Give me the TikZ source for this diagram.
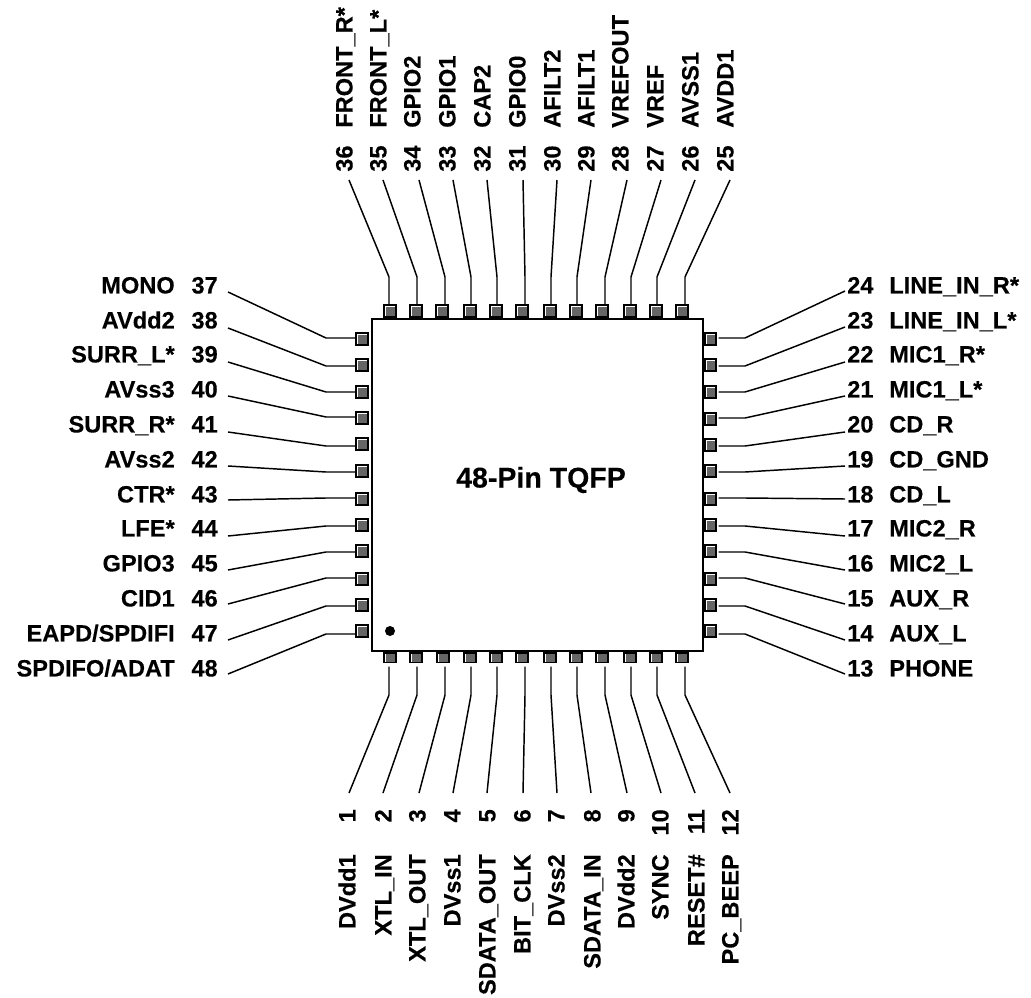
\documentclass[tikz,border=0pt]{standalone}
\usepackage{fontspec}
\setmainfont[BoldFeatures={FakeBold=0.3}]{Liberation Sans}
\usepackage{tikz}

\definecolor{pingray}{HTML}{666666}

\tikzset{
  pinbox/.style={draw=black,line width=1.4pt,fill=pingray,inner sep=0pt,minimum size=8.5pt,
    path picture={\draw[white,line width=2.8pt]
      (path picture bounding box.south west) -- (path picture bounding box.north west)
      -- (path picture bounding box.north east);}},
  lead/.style={draw=black,line width=1.1pt},
  pinlabel/.style={font=\fontsize{17.7}{20}\selectfont\bfseries,inner sep=0pt,text height=12.7pt,text depth=0pt}
}

\begin{document}
\begin{tikzpicture}[x=0.75pt,y=-0.75pt]
  \useasboundingbox (0,0) rectangle (1031,998);

  \node[draw=black,line width=1.25pt,minimum width=248.25pt,minimum height=249pt,inner sep=0pt] (chip) at (537.5,484.75) {};
  \node[font=\fontsize{21.4}{24}\selectfont\bfseries] (title) at (541,480) {48-Pin TQFP};
  \node[circle,fill=black,inner sep=0pt,minimum size=7.5pt] (dot) at (390,631) {};

  % top row, 36 down to 25
  \foreach \num/\pinx/\leadx/\endx/\txtx/\txt in {
      36/390/389/349/344/FRONT\_R*, 35/416/417/383/378/FRONT\_L*, 34/442/445/419/412/GPIO2,
      33/470/471/453/447/GPIO1, 32/496/497/487/482/CAP2, 31/522/525/523/517/GPIO0,
      30/550/551/557/552/AFILT2, 29/576/577/591/586/AFILT1, 28/602/605/627/620/VREFOUT,
      27/630/631/661/655/VREF, 26/656/657/695/690/AVSS1, 25/682/685/730/725/AVDD1}{
    \node[pinbox] (p\num) at (\pinx,311) {};
    \coordinate (b\num) at (\leadx,277);
    \coordinate (e\num) at (\endx,180);
    \draw[lead] (b\num |- p\num.north) -- (b\num) -- (e\num);
    \node[pinlabel,rotate=90,anchor=west] (n\num) at (\txtx,172) {\num};
    \node[pinlabel,rotate=90,anchor=west] (t\num) at (\txtx,128) {\txt};
  }

  % bottom row, 1 to 12
  \foreach \num/\pinx/\leadx/\endx/\txtx/\txt in {
      1/390/389/349/347/DVdd1, 2/416/417/383/383/XTL\_IN, 3/443/445/419/417/XTL\_OUT,
      4/470/471/453/452/DVss1, 5/496/497/487/487/SDATA\_OUT, 6/522/525/523/522/BIT\_CLK,
      7/550/551/557/556/DVss2, 8/576/577/591/592/SDATA\_IN, 9/602/605/627/626/DVdd2,
      10/630/631/661/660/SYNC, 11/656/657/695/696/RESET\#, 12/682/685/730/730/PC\_BEEP}{
    \node[pinbox,minimum height=7.4pt] (p\num) at (\pinx,657.5) {};
    \coordinate (b\num) at (\leadx,695);
    \coordinate (e\num) at (\endx,793);
    \draw[lead] ([yshift=-2.5pt]b\num |- p\num.south) -- (b\num) -- (e\num);
    \node[pinlabel,rotate=90,anchor=east] (n\num) at (\txtx,809) {\num};
    \node[pinlabel,rotate=90,anchor=east] (t\num) at (\txtx,854) {\txt};
  }

  % left row, 37 to 48
  \foreach \num/\piny/\leady/\endy/\txty/\txt in {
      37/339/338/292/285/MONO, 38/365/366/328/320/AVdd2, 39/392/392/362/354/SURR\_L*,
      40/418/417/396/389/AVss3, 41/444/446/432/424/SURR\_R*, 42/471/472/466/459/AVss2,
      43/499/498/500/494/CTR*, 44/525/526/536/528/LFE*, 45/551/552/570/563/GPIO3,
      46/579/578/604/598/CID1, 47/605/606/640/633/{EAPD/SPDIFI}, 48/631/634/674/668/{SPDIFO/ADAT}}{
    \node[pinbox] (p\num) at (362,\piny) {};
    \coordinate (b\num) at (326,\leady);
    \coordinate (e\num) at (228,\endy);
    \draw[lead] (p\num.west |- b\num) -- (b\num) -- (e\num);
    \node[pinlabel,anchor=east] (n\num) at (218,\txty) {\num};
    \node[pinlabel,anchor=east] (t\num) at (175,\txty) {\txt};
  }

  % right row, 24 down to 13
  \foreach \num/\piny/\leady/\endy/\txty/\txt in {
      24/339/338/291/285/LINE\_IN\_R*, 23/365/366/327/320/LINE\_IN\_L*, 22/392/392/362/354/MIC1\_R*,
      21/419/418/396/389/MIC1\_L*, 20/445/446/432/424/CD\_R, 19/471/472/466/459/CD\_GND,
      18/499/498/499/494/CD\_L, 17/525/526/536/528/MIC2\_R, 16/551/552/570/563/MIC2\_L,
      15/579/578/604/598/AUX\_R, 14/605/606/640/633/AUX\_L, 13/631/634/674/668/PHONE}{
    \node[pinbox,minimum width=7.9pt] (p\num) at (710.3,\piny) {};
    \coordinate (b\num) at (745,\leady);
    \coordinate (e\num) at (845,\endy);
    \draw[lead] ([xshift=1.5pt]p\num.east |- b\num) -- (b\num) -- (e\num);
    \node[pinlabel,anchor=west] (n\num) at (847,\txty) {\num};
    \node[pinlabel,anchor=west] (t\num) at (889,\txty) {\txt};
  }
\end{tikzpicture}
\end{document}
